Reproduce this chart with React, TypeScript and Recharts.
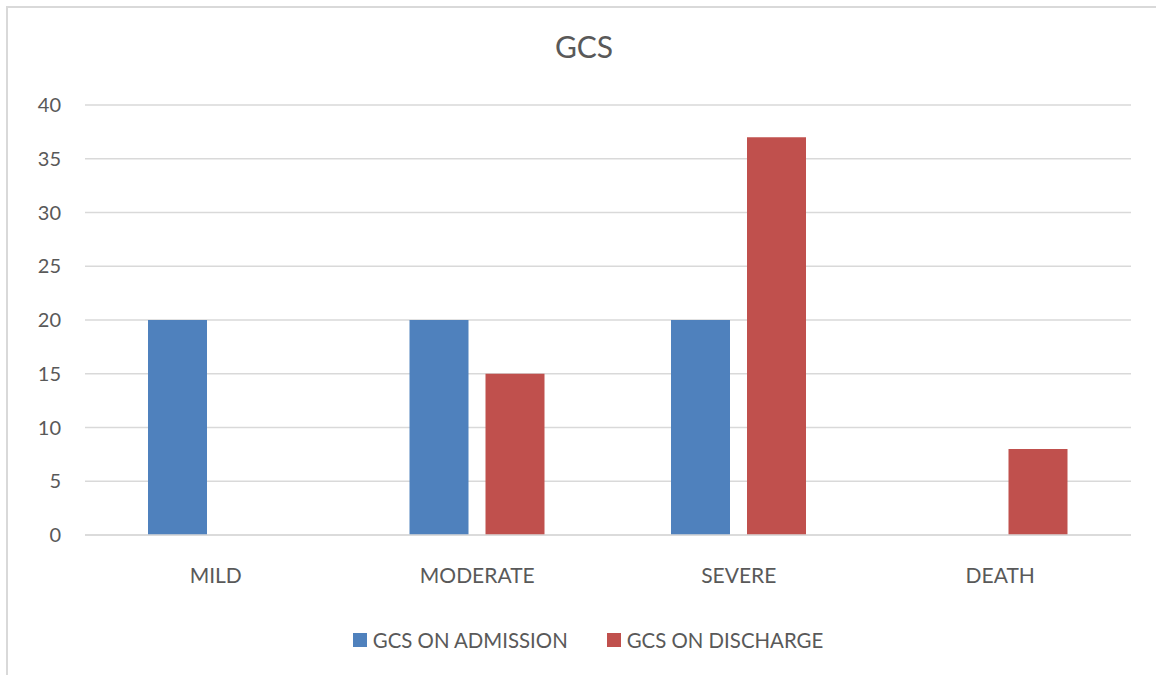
import React from "react";
import { BarChart, Bar, XAxis, YAxis, CartesianGrid, Legend } from "recharts";

const categories = ["MILD", "MODERATE", "SEVERE", "DEATH"];
const admission = [20, 20, 20, 0];
const discharge = [0, 15, 37, 8];
const yTicks = [0, 5, 10, 15, 20, 25, 30, 35, 40];
const seriesNames = ["GCS ON ADMISSION", "GCS ON DISCHARGE"];
const colors = ["#4f81bd", "#c0504d"];

const data = categories.map((c, i) => ({ name: c, admission: admission[i], discharge: discharge[i] }));

const FONT = "Lato, 'Open Sans', sans-serif";
const TEXT = "#595959";

const LegendContent = () => (
  <div style={{ display: "flex", justifyContent: "center", alignItems: "center", height: 30, fontFamily: FONT, fontSize: 20.4, color: TEXT, paddingLeft: 20 }}>
    {seriesNames.map((n, i) => (
      <div key={n} style={{ display: "flex", alignItems: "center", marginLeft: i === 0 ? 0 : 39 }}>
        <span style={{ display: "inline-block", width: 14, height: 14, background: colors[i], marginRight: 6 }} />
        <span>{n}</span>
      </div>
    ))}
  </div>
);

export default function App() {
  return (
    <div style={{ position: "absolute", left: 0, top: 0, width: 1156, height: 675, background: "#fff", overflow: "hidden" }}>
      <div style={{ position: "absolute", left: 6, top: 6, width: 1200, height: 700, borderTop: "2px solid #d9d9d9", borderLeft: "2px solid #d9d9d9" }} />
      <div style={{ position: "absolute", left: 0, top: 28, width: 1168, textAlign: "center", fontFamily: FONT, fontSize: 30, color: TEXT }}>GCS</div>
      <div style={{ position: "absolute", left: 0, top: 0 }}>
        <BarChart width={1156} height={675} data={data} margin={{ top: 105, right: 25, left: 0, bottom: 80 }} barSize={59} barGap={17}>
          <CartesianGrid vertical={false} stroke="#d9d9d9" strokeWidth={1.5} />
          <XAxis dataKey="name" height={30} axisLine={{ stroke: "#d9d9d9", strokeWidth: 1.5 }} tickLine={false} tickSize={6} tickMargin={27}
            tick={{ fill: TEXT, fontSize: 21, fontFamily: FONT }} />
          <YAxis width={85} domain={[0, 40]} ticks={yTicks} axisLine={false} tickLine={false} tickMargin={18}
            tick={{ fill: TEXT, fontSize: 20, fontFamily: FONT }} />
          <Legend verticalAlign="bottom" content={LegendContent} wrapperStyle={{ top: 625, bottom: "auto", left: 0, width: 1156 }} />
          <Bar dataKey="admission" name={seriesNames[0]} fill={colors[0]} isAnimationActive={false} />
          <Bar dataKey="discharge" name={seriesNames[1]} fill={colors[1]} isAnimationActive={false} />
        </BarChart>
      </div>
    </div>
  );
}
